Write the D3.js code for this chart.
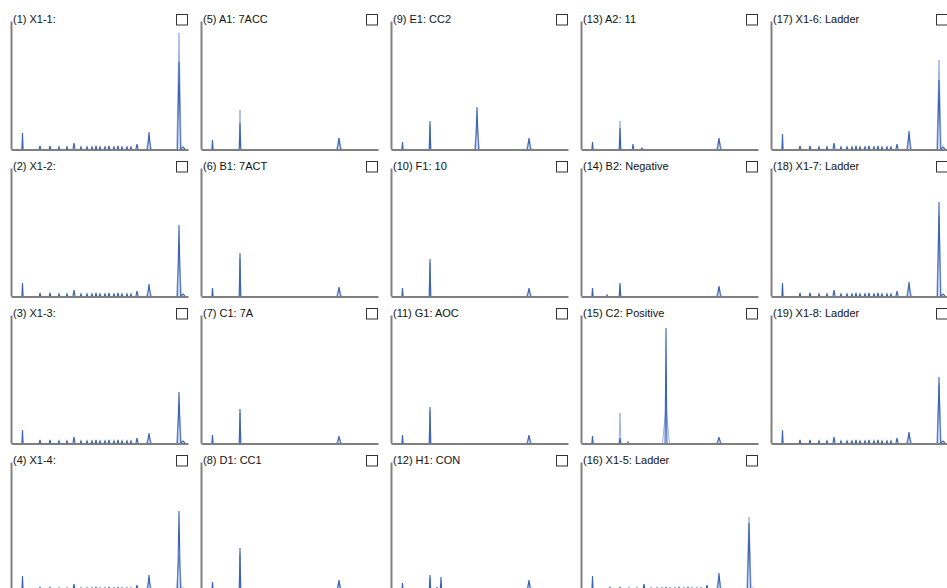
<!DOCTYPE html>
<html><head><meta charset="utf-8">
<script src="https://cdn.jsdelivr.net/npm/d3@7"></script>
<style>
html,body{margin:0;padding:0;background:#fff;overflow:hidden}
text{font-family:"Liberation Sans",Arial,sans-serif}
</style></head>
<body><svg id="c" width="947" height="588"></svg>
<script>
// Panel titles (column-major order)
const titles = ["(1) X1-1:", "(2) X1-2:", "(3) X1-3:", "(4) X1-4:",
  "(5) A1: 7ACC", "(6) B1: 7ACT", "(7) C1: 7A", "(8) D1: CC1",
  "(9) E1: CC2", "(10) F1: 10", "(11) G1: AOC", "(12) H1: CON",
  "(13) A2: 11", "(14) B2: Negative", "(15) C2: Positive", "(16) X1-5: Ladder",
  "(17) X1-6: Ladder", "(18) X1-7: Ladder", "(19) X1-8: Ladder"];

// small ladder fragments [position, height, half-width]
const ladderSmall = [[29,3,0.7],[39,3,0.7],[48,2,0.7],[56,2,0.7],[63,6,1],[70,2,0.7],[76,2,0.7],[81,2,0.7],[85,3,0.7],[89,2,0.7],[94,2,0.7],[98,3,0.7],[103,2,0.7],[107,3,0.7],[111,2,0.7],[116,2,0.7],[120,2,0.7],[126,5,1]];

// dark-channel peaks per panel [position, height, half-width]
const darkPeaks = [
  [[11.5,16,0.6],[138,17,1.4],[168,87,1.4],[172,2,2]],
  [[11.5,13,0.6],[138,12,1.4],[168,71,1.4],[172,2,2]],
  [[11.5,13,0.6],[138,10,1.4],[168,51,1.4],[172,2,2]],
  [[11.5,14,0.6],[138,15,1.4],[168,79,1.4],[172,2,2]],
  [[11.5,9,0.6],[39,26,0.7],[138,11,1.4]],
  [[11.5,8,0.6],[39,43,0.7],[138,9,1.4]],
  [[11.5,8,0.6],[39,34,0.7],[138,7,1.4]],
  [[11.5,8,0.6],[39,42,0.7],[138,10,1.4]],
  [[11.5,7,0.6],[39,28,0.7],[86,42,1.4],[138,11,1.4]],
  [[11.5,8,0.6],[39,37,0.7],[138,8,1.4]],
  [[11.5,8,0.6],[39,36,0.7],[138,8,1.4]],
  [[11.5,7,0.6],[39,15,0.7],[46,3,0.5],[50,13,0.7],[138,10,1.4]],
  [[11.5,7,0.6],[39,21,0.7],[52,5,0.7],[61,1,0.9],[138,11,1.4]],
  [[11.5,8,0.6],[26,1,0.5],[39,13,0.7],[138,10,1.4]],
  [[11.5,7,0.6],[39,5,0.7],[47,1,0.4],[85,115,0.9],[138,6,1.4]],
  [[11.5,14,0.6],[138,17,1.4],[168,67,1.4],[172,2,2]],
  [[11.5,15,0.6],[138,18,1.4],[168,69,1.4],[172,2,2]],
  [[11.5,13,0.6],[138,14,1.4],[168,94,1.4],[172,2,2]],
  [[11.5,13,0.6],[138,11,1.4],[168,66,1.4],[172,2,2]]
];

// light-channel peaks per panel [position, height, half-width]
const lightPeaks = [
  [[138,12,2.4],[168,116,2.2]],
  [[138,9,2.4],[168,46,2.4]],
  [[138,8,2.4],[168,38,2.4]],
  [[138,11,2.4],[168,35,2.6]],
  [[39,39,0.9],[138,11,2.4]],
  [[39,38,0.9],[138,8,2.4]],
  [[39,30,0.9],[138,6,2.4]],
  [[39,36,0.9],[138,9,2.4]],
  [[39,24,0.9],[86,27,2.4],[138,10,2.4]],
  [[39,33,0.9],[138,7,2.4]],
  [[39,32,0.9],[138,7,2.4]],
  [[39,12,0.9],[138,9,2.4]],
  [[39,28,0.9],[138,10,2.4]],
  [[39,11,0.9],[138,9,2.4]],
  [[39,30,0.9],[85,37,3.4],[138,5,2.4]],
  [[138,14,2.4],[168,73,2.2]],
  [[138,15,2.4],[168,89,2.2]],
  [[138,12,2.4],[168,80,2.2]],
  [[138,10,2.4],[168,58,2.2]]
];

// which panels show the ladder fragments
const hasLadder = [true,true,true,true,false,false,false,false,false,false,false,false,false,false,false,true,true,true,true];

const svg = d3.select("#c");
const x = d3.scaleLinear().domain([0,177]).range([11,188]);
const y = d3.scaleLinear().domain([0,128]).range([149,21]);
const line = d3.line().x(d=>x(d[0])).y(d=>y(d[1]));
const peakPts = p => [[p[0]-p[2],0],[p[0],p[1]],[p[0]+p[2],0]];

titles.forEach((t,i)=>{
  const col = Math.floor(i/4), row = i%4;
  const g = svg.append("g").attr("transform",`translate(${col*190},${row*147})`);
  // axes
  g.append("g").attr("transform","translate(0,149.5)")
    .call(d3.axisBottom(x).tickValues([]).tickSizeOuter(0))
    .select(".domain").attr("stroke","#000").attr("stroke-width",1.2);
  g.append("g").attr("transform","translate(11,0)")
    .call(d3.axisLeft(y).tickValues([]).tickSizeOuter(0))
    .select(".domain").attr("stroke","#808080").attr("stroke-width",2);
  // light channel
  g.selectAll("path.lt").data(lightPeaks[i]).enter().append("path").attr("class","lt")
    .attr("d",p=>line(peakPts(p))).attr("fill","none").attr("stroke","#9cb2df").attr("stroke-width",1);
  // ladder fragments
  if (hasLadder[i]) {
    g.selectAll("path.ld").data(ladderSmall).enter().append("path").attr("class","ld")
      .attr("d",p=>line(peakPts(p))).attr("fill","none").attr("stroke","#3b63b4").attr("stroke-width",1.2);
  }
  // dark channel
  g.selectAll("path.dk").data(darkPeaks[i]).enter().append("path").attr("class","dk")
    .attr("d",p=>line(peakPts(p))).attr("fill","none").attr("stroke","#3b63b4").attr("stroke-width",1.1);
  // title
  g.append("text").attr("x",13).attr("y",23).attr("font-size",11).attr("fill","#111").text(t);
  // checkbox
  g.append("rect").attr("x",176.5).attr("y",14.5).attr("width",11).attr("height",10.5)
    .attr("fill","#fff").attr("stroke","#333").attr("stroke-width",1);
});
</script></body></html>
